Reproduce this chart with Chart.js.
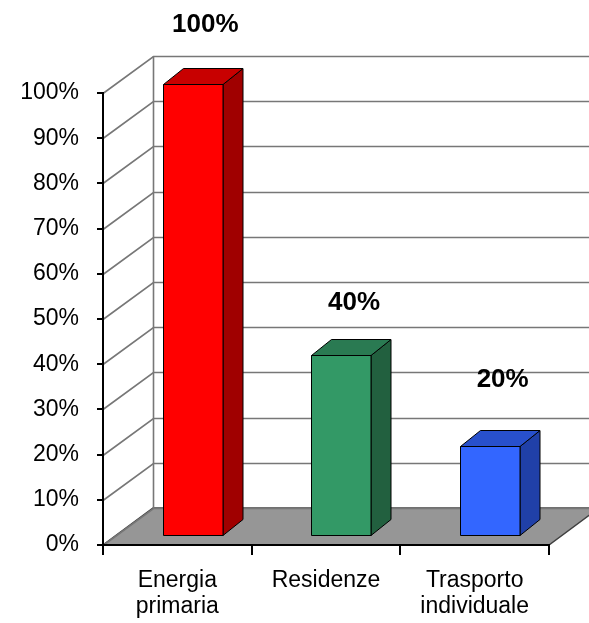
<!DOCTYPE html>
<html>
<head>
<meta charset="utf-8">
<script src="https://cdn.jsdelivr.net/npm/chart.js@4/dist/chart.umd.min.js"></script>
<style>
  html, body { margin: 0; padding: 0; background: #ffffff; }
  #wrap { width: 589px; height: 623px; }
</style>
</head>
<body>
<div id="wrap"><canvas id="c" width="589" height="623"></canvas></div>
<script>
// ---- data ----
const categories = [["Energia", "primaria"], "Residenze", ["Trasporto", "individuale"]];
const values = [100, 40, 20];
const yMin = 0;
const yMax = 100;
const yStep = 10;
const frontColors = ["#FF0000", "#339966", "#3366FF"];
const topColors = ["#C80000", "#2A7A52", "#2850CC"];
const sideColors = ["#A00000", "#22603F", "#2040A8"];

const FONT = "'Liberation Sans', Arial, sans-serif";

const threeD = {
  id: "threeD",
  beforeDraw(chart, args, o) {
    const { ctx, chartArea: a, scales: { y } } = chart;
    const W = chart.width;
    const dx = o.wallDx, dy = o.wallDy;
    ctx.save();
    // floor
    const y0 = y.getPixelForValue(yMin);
    ctx.beginPath();
    ctx.moveTo(a.left, y0);
    ctx.lineTo(a.right, y0);
    ctx.lineTo(a.right + dx, y0 - dy);
    ctx.lineTo(a.left + dx, y0 - dy);
    ctx.closePath();
    ctx.fillStyle = "#969696";
    ctx.fill();
    ctx.strokeStyle = "#404040";
    ctx.lineWidth = 1.5;
    ctx.stroke();
    // gridlines on side wall and back wall
    ctx.strokeStyle = "#777777";
    ctx.lineWidth = 1.6;
    y.ticks.forEach(t => {
      const py = Math.round(y.getPixelForValue(t.value)) + 0.5;
      ctx.beginPath();
      ctx.moveTo(a.left, py);
      ctx.lineTo(a.left + dx + 0.5, py - dy);
      ctx.lineTo(W, py - dy);
      ctx.stroke();
    });
    // back wall left edge
    const bx = a.left + dx + 0.5;
    ctx.beginPath();
    ctx.moveTo(bx, Math.round(y.getPixelForValue(yMin)) - dy);
    ctx.lineTo(bx, Math.round(y.getPixelForValue(yMax)) - dy);
    ctx.stroke();
    ctx.restore();
  },
  afterDatasetsDraw(chart, args, o) {
    const { ctx } = chart;
    const meta = chart.getDatasetMeta(0);
    ctx.save();
    ctx.lineWidth = 1;
    ctx.strokeStyle = "#000000";
    ctx.lineJoin = "miter";
    meta.data.forEach((el, i) => {
      const w = el.width;
      const left = Math.round(el.x - w / 2 + o.barDx) + 0.5;
      const right = Math.round(left + w);
      const top = Math.round(el.y - o.barDy) + 0.5;
      const bottom = Math.round(el.base - o.barDy) + 0.5;
      const ddx = o.depthX, ddy = o.depthY;
      // side
      ctx.beginPath();
      ctx.moveTo(right, top);
      ctx.lineTo(right + ddx, top - ddy);
      ctx.lineTo(right + ddx, bottom - ddy);
      ctx.lineTo(right, bottom);
      ctx.closePath();
      ctx.fillStyle = sideColors[i];
      ctx.fill();
      ctx.stroke();
      // top
      ctx.beginPath();
      ctx.moveTo(left, top);
      ctx.lineTo(left + ddx, top - ddy);
      ctx.lineTo(right + ddx, top - ddy);
      ctx.lineTo(right, top);
      ctx.closePath();
      ctx.fillStyle = topColors[i];
      ctx.fill();
      ctx.stroke();
      // front
      ctx.beginPath();
      ctx.rect(left, top, right - left, bottom - top);
      ctx.fillStyle = frontColors[i];
      ctx.fill();
      ctx.stroke();
      // value label
      ctx.fillStyle = "#000000";
      ctx.font = "bold 26px " + FONT;
      ctx.textAlign = "center";
      ctx.textBaseline = "middle";
      ctx.fillText(values[i] + "%", el.x + o.labelDx, el.y - o.labelLift[i]);
    });
    ctx.restore();
  }
};

new Chart(document.getElementById("c"), {
  type: "bar",
  data: {
    labels: categories,
    datasets: [{
      data: values,
      backgroundColor: "rgba(0,0,0,0)",
      borderWidth: 0,
      barPercentage: 0.4,
      categoryPercentage: 1.0
    }]
  },
  options: {
    responsive: false,
    animation: false,
    devicePixelRatio: 1,
    layout: { padding: { top: 93, right: 40, left: 0, bottom: 0 } },
    plugins: {
      legend: { display: false },
      tooltip: { enabled: false },
      threeD: {
        wallDx: 50, wallDy: 37,
        barDx: 15, barDy: 9,
        depthX: 20, depthY: 16,
        labelDx: 28,
        labelLift: [68, 61, 75]
      }
    },
    scales: {
      x: {
        grid: {
          display: true, drawOnChartArea: false, drawTicks: true,
          tickLength: 10, color: "#000000", lineWidth: 2, offset: true
        },
        border: { display: true, color: "#000000", width: 2 },
        ticks: {
          color: "#000000",
          font: { family: FONT, size: 23, lineHeight: 1.12 },
          padding: 13,
          maxRotation: 0,
          autoSkip: false
        },
        afterFit(scale) { scale.height = 78; }
      },
      y: {
        min: yMin, max: yMax,
        grid: {
          display: true, drawOnChartArea: false, drawTicks: true,
          tickLength: 6, color: "#000000", lineWidth: 2
        },
        border: { display: true, color: "#000000", width: 2 },
        ticks: {
          stepSize: yStep,
          color: "#000000",
          font: { family: FONT, size: 23 },
          padding: 18,
          callback: v => v + "%"
        },
        afterFit(scale) { scale.width = 103; }
      }
    }
  },
  plugins: [threeD]
});
</script>
</body>
</html>
